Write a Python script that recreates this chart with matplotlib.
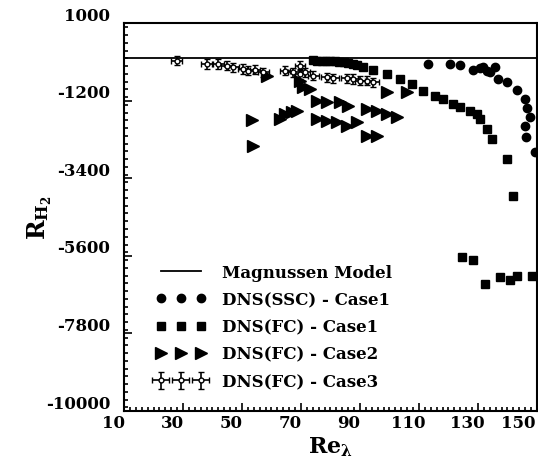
import numpy as np
import matplotlib
matplotlib.use("Agg")
import matplotlib.pyplot as plt
import matplotlib.transforms as mtransforms
from matplotlib.ticker import MultipleLocator

plt.rcParams['font.family'] = 'DejaVu Serif'
plt.rcParams['font.weight'] = 'bold'
plt.rcParams['mathtext.fontset'] = 'dejavuserif'
plt.rcParams['axes.unicode_minus'] = False

# Magnussen model (flat line at zero)
mag_re = [10, 155]
mag_r = [0, 0]

# DNS(SSC) - Case1 (circles)
ssc1_re = [113.1, 120.5, 123.9, 128.3, 130.7, 131.7, 133.1, 134.1, 135.8, 136.8,
           139.8, 143.2, 145.9, 146.6, 147.6, 145.9, 146.3, 149.3]
ssc1_r = [-162, -162, -190, -332, -276, -247, -361, -389, -247, -588,
          -672, -900, -1155, -1410, -1665, -1930, -2240, -2665]

# DNS(FC) - Case1 (squares)
fc1_re = [74, 75.5, 77, 78.5, 80, 81.5, 83, 84.5, 86, 87.5, 89, 91.0, 94.4, 99.2,
          103.6, 107.6, 111.4, 115.4, 118.1, 121.5, 123.9, 127.3, 129.7, 130.7,
          133.1, 134.7, 139.8, 141.9,
          124.6, 128.3, 132.4, 137.5, 140.8, 143.2, 148.3]
fc1_r = [-60, -70, -70, -80, -80, -90, -100, -110, -120, -150, -180, -247, -332, -446,
         -588, -729, -928, -1070, -1155, -1297, -1381, -1495, -1580, -1722,
         -2005, -2289, -2856, -3905,
         -5634, -5719, -6400, -6200, -6285, -6172, -6172]

# DNS(FC) - Case2 (triangles)
fc2_re = [53.3, 53.8, 58.4, 62.9, 64.6, 66.8, 68.5, 69.7, 70.8, 73.1,
          75.3, 78.7, 83.2, 86.0, 75.3, 78.7, 82.1, 85.5, 88.9, 92.3, 95.7,
          92.3, 95.7, 99.0, 102.4, 99.0, 105.8]
fc2_r = [-1741, -2478, -511, -1722, -1580, -1514, -1486, -635, -823, -871,
         -1202, -1249, -1249, -1344, -1722, -1770, -1815, -1911, -1815, -2195, -2212,
         -1438, -1486, -1580, -1675, -965, -965]

# DNS(FC) - Case3 (crosses with error bars)
fc3_re = [27.8, 38.0, 42.0, 44.8, 47.1, 50.4, 52.1, 54.4, 57.2, 64.6, 67.4,
          69.7, 71.4, 74.2, 78.7, 81.0, 85.5, 87.7, 90.0, 92.3, 94.5, 69.7]
fc3_r = [-68, -162, -162, -210, -256, -304, -352, -324, -398, -352, -398,
         -446, -398, -493, -540, -568, -568, -588, -635, -635, -682, -210]

fig = plt.figure(figsize=(5.38, 4.6), dpi=100)
ax = fig.add_axes([0.2305, 0.1043, 0.7675, 0.8435])

ax.plot(mag_re, mag_r, color='black', lw=1.3, label='Magnussen Model')
ax.plot(ssc1_re, ssc1_r, 'o', color='black', ms=6, ls='none', label='DNS(SSC) - Case1')
ax.plot(fc1_re, fc1_r, 's', color='black', ms=5.5, ls='none', label='DNS(FC) - Case1')
ax.plot(fc2_re, fc2_r, '>', color='black', ms=8, ls='none', label='DNS(FC) - Case2')
ax.errorbar(fc3_re, fc3_r, xerr=1.8, yerr=130, fmt='o', color='black', ms=3.5,
            mfc='white', mew=1.0, elinewidth=1.2, capsize=2,
            label='DNS(FC) - Case3')

ax.set_xlim(10, 150)
ax.set_ylim(-10000, 1000)
ax.set_xticks(np.arange(10, 151, 20))
ax.set_yticks(np.arange(-10000, 1001, 2200))
ax.xaxis.set_minor_locator(MultipleLocator(2))
ax.yaxis.set_minor_locator(MultipleLocator(220))
ax.tick_params(which='both', direction='in', top=False, right=False,
               labelsize=12, width=1.2)
ax.tick_params(which='major', length=6)
ax.tick_params(which='minor', length=3)
ax.tick_params(axis='y', pad=10)
ax.tick_params(axis='x', pad=2.5)
for s in ax.spines.values():
    s.set_linewidth(1.5)

# scanned labels sit slightly off their ticks
dx = mtransforms.ScaledTranslation(-11 / 100, 0, fig.dpi_scale_trans)
xlabs = ax.get_xticklabels()
for lab in xlabs:
    lab.set_transform(lab.get_transform() + dx)
    lab.set_fontweight('bold')
xlabs[-1].set_horizontalalignment('right')
xlabs[-1].set_transform(xlabs[-1].get_transform()
                        + mtransforms.ScaledTranslation(10 / 100, 0, fig.dpi_scale_trans))
dy = mtransforms.ScaledTranslation(0, 10 / 100, fig.dpi_scale_trans)
for lab in ax.get_yticklabels():
    lab.set_transform(lab.get_transform() + dy)
    lab.set_fontweight('bold')

ax.set_xlabel(r'$\mathbf{Re_\lambda}$', fontsize=16, labelpad=2)
ax.set_ylabel(r'$\mathbf{R_{H_2}}$', fontsize=17, labelpad=-6)

leg = ax.legend(loc='lower left', bbox_to_anchor=(0.04, 0.015), frameon=False,
                numpoints=3, handlelength=3.0, handletextpad=1.0,
                labelspacing=0.62, prop={'size': 12, 'weight': 'bold'})

fig.savefig('out.png', dpi=100)
